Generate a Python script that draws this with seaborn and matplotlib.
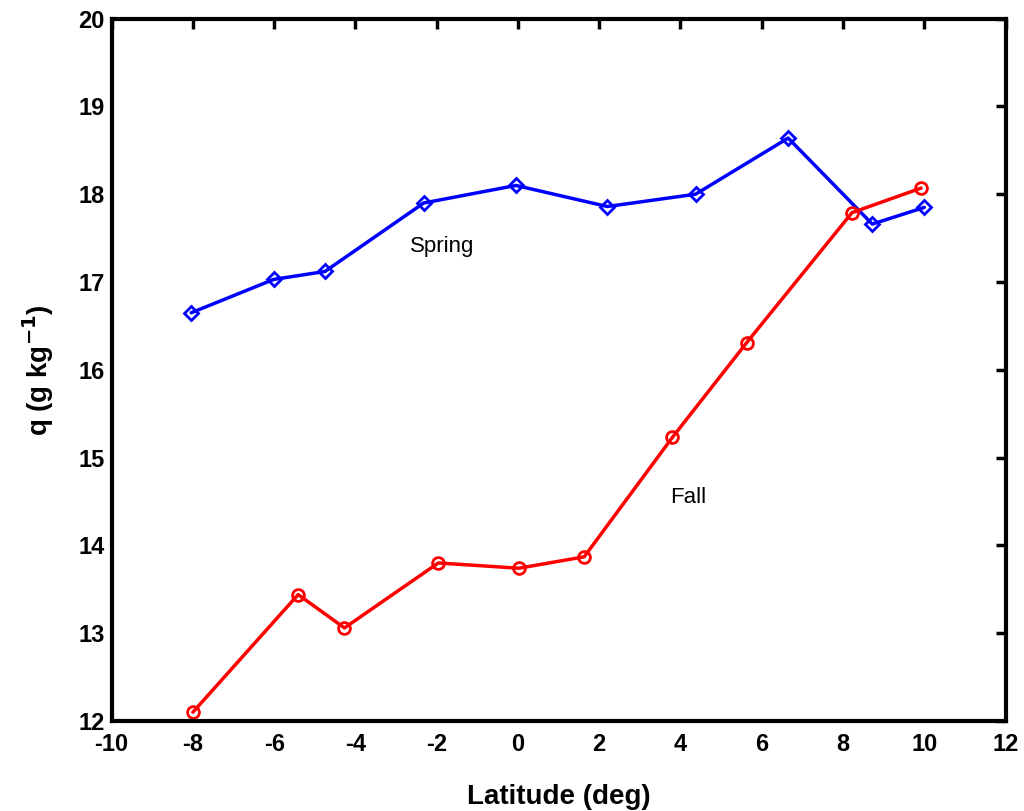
import numpy as np
import pandas as pd
import matplotlib
matplotlib.use("Agg")
import matplotlib.pyplot as plt
import seaborn as sns

# values
spring_lat = [-8.04, -6.01, -4.75, -2.32, -0.05, 2.2, 4.37, 6.65, 8.72, 10.0]
spring_q = [16.65, 17.03, 17.12, 17.90, 18.10, 17.86, 18.00, 18.64, 17.66, 17.85]

fall_lat = [-8.0, -5.41, -4.27, -1.96, 0.02, 1.63, 3.80, 5.63, 8.22, 9.92]
fall_q = [12.10, 13.44, 13.06, 13.80, 13.74, 13.87, 15.23, 16.31, 17.79, 18.07]

x_ticks = list(range(-10, 13, 2))
y_ticks = list(range(12, 21))

sns.set_theme(style="white")
plt.rcParams['font.family'] = ['Liberation Sans', 'DejaVu Sans']
plt.rcParams['axes.unicode_minus'] = False
plt.rcParams['text.color'] = 'black'
plt.rcParams['axes.labelcolor'] = 'black'
plt.rcParams['xtick.color'] = 'black'
plt.rcParams['ytick.color'] = 'black'

fig = plt.figure(figsize=(10.24, 8.11), dpi=100)
ax = fig.add_axes([0.109, 0.111, 0.873, 0.866])

spring_df = pd.DataFrame({"lat": spring_lat, "q": spring_q})
fall_df = pd.DataFrame({"lat": fall_lat, "q": fall_q})

sns.lineplot(data=spring_df, x="lat", y="q", ax=ax, color="#0000ff",
             linewidth=2.5, marker="D", markersize=7,
             markerfacecolor="none", markeredgecolor="#0000ff",
             markeredgewidth=2)
sns.lineplot(data=fall_df, x="lat", y="q", ax=ax, color="#ff0000",
             linewidth=2.5, marker="o", markersize=8.5,
             markerfacecolor="none", markeredgecolor="#ff0000",
             markeredgewidth=2)

ax.text(-1.87, 17.4, "Spring", ha="center", va="center", fontsize=16)
ax.text(4.19, 14.54, "Fall", ha="center", va="center", fontsize=16)

ax.set_xlim(-10, 12)
ax.set_ylim(12, 20)
ax.set_xticks(x_ticks)
ax.set_yticks(y_ticks)
ax.tick_params(direction="in", length=7, width=2.5, top=True, right=True,
               labelsize=17)
ax.tick_params(axis="x", pad=9)
ax.tick_params(axis="y", pad=5)
for lab in ax.get_xticklabels() + ax.get_yticklabels():
    lab.set_fontweight("bold")
for sp in ax.spines.values():
    sp.set_linewidth(3)
    sp.set_color("black")

ax.set_xlabel("Latitude (deg)", fontsize=20, fontweight="bold", labelpad=20)
ax.set_ylabel("q (g kg$^{\\mathbf{-1}}$)", fontsize=20, fontweight="bold", labelpad=16)

fig.savefig("out.png", dpi=100)
